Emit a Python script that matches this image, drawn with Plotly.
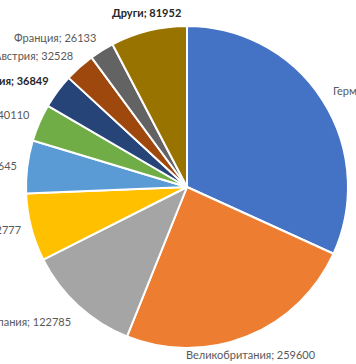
import numpy as np
import plotly.graph_objects as go

labels = ["Германия", "Великобритания", "Испания", "Италия", "Швейцария",
          "Нидерландия", "Белгия", "Австрия", "Франция", "Други"]
values = [340100, 259600, 122785, 72777, 56645, 40110, 36849, 32528, 26133, 81952]
colors = ["#4472C4", "#ED7D31", "#A5A5A5", "#FFC000", "#5B9BD5",
          "#70AD47", "#264478", "#9E480E", "#636363", "#997300"]
bold = {"Белгия", "Други"}

W, H = 356, 364
cx, cy, r = 187, 187, 161
gap = 10

fig = go.Figure(go.Pie(
    labels=labels, values=values,
    textinfo="none",
    sort=False, direction="clockwise", rotation=0,
    marker=dict(colors=colors, line=dict(color="white", width=2)),
    showlegend=False, hoverinfo="label+value",
    domain=dict(x=[(cx - r) / W, (cx + r) / W], y=[(H - cy - r) / H, (H - cy + r) / H]),
))

# data labels placed outside each slice at its mid-angle (Excel-like placement)
vals = np.array(values, dtype=float)
cum = np.cumsum(vals)
mid = (cum - vals / 2) / vals.sum() * 2 * np.pi
for lab, v, a in zip(labels, values, mid):
    s, c = np.sin(a), np.cos(a)
    px = cx + (r + gap) * s
    py = cy - (r + gap) * c
    ys, xs = 0, 0
    if s > 0.45:
        xa = "left"
    elif s < -0.45:
        xa = "right"
        xs = 2
    else:
        xa = "center"
    if s > 0.45:
        ya = "middle"
        ys = 4
    elif xa == "center":
        ya = "bottom" if c > 0 else "top"
    else:
        ya = "bottom" if c > 0.35 else ("top" if c < -0.35 else "middle")
        if ya == "bottom":
            ys = -4
    isb = lab in bold
    txt = ("<b>%s; %d</b>" if isb else "%s; %d") % (lab, v)
    fig.add_annotation(
        x=px / W, y=1 - py / H, xref="paper", yref="paper",
        text=txt, showarrow=False, xanchor=xa, yanchor=ya,
        xshift=xs, yshift=ys,
        font=dict(family="Lato, Noto Sans, sans-serif", size=11,
                  color="#262626" if isb else "#595959"),
    )

fig.update_layout(width=W, height=H, margin=dict(l=0, r=0, t=0, b=0),
                  paper_bgcolor="white", plot_bgcolor="white")
fig.write_html("out.html", config={"displayModeBar": False},
               post_script="document.body.style.margin='0';")
